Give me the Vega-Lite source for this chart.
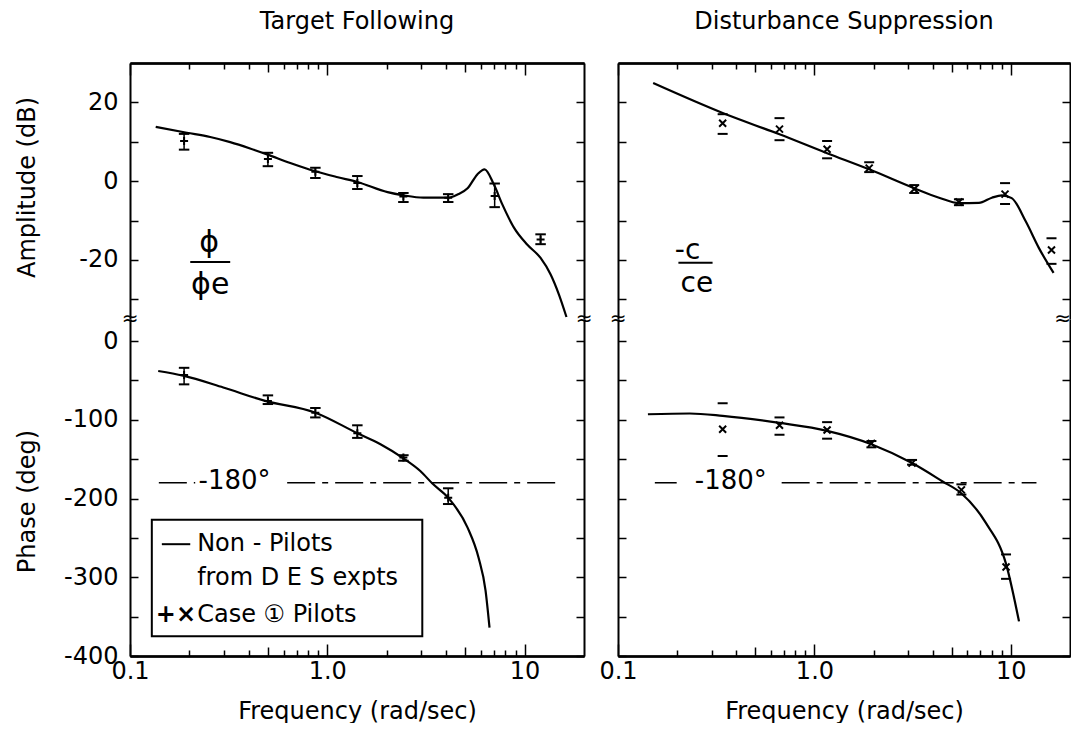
{
  "$schema": "https://vega.github.io/schema/vega-lite/v6.json",
  "padding": {"left": 15, "top": 10, "right": 0, "bottom": 0},
  "background": "white",
  "columns": 2,
  "spacing": {"row": 0, "column": 34},
  "bounds": "flush",
  "datasets": {
    "aL": [
      {"f": 0.135, "v": 13.8}, {"f": 0.194, "v": 12.3}, {"f": 0.255, "v": 11.2}, {"f": 0.322, "v": 9.9},
      {"f": 0.406, "v": 8.3}, {"f": 0.495, "v": 6.8}, {"f": 0.649, "v": 4.6}, {"f": 0.87, "v": 2.5},
      {"f": 1.13, "v": 1.0}, {"f": 1.42, "v": -0.2}, {"f": 2.02, "v": -2.8}, {"f": 2.43, "v": -3.6},
      {"f": 3.07, "v": -4.2}, {"f": 4.1, "v": -4.2}, {"f": 4.57, "v": -3.4}, {"f": 5.14, "v": -1.8},
      {"f": 5.76, "v": 1.7}, {"f": 6.27, "v": 3.0}, {"f": 6.98, "v": -0.8}, {"f": 7.71, "v": -5.9},
      {"f": 8.83, "v": -11.8}, {"f": 10.3, "v": -16.1}, {"f": 12.05, "v": -19.5}, {"f": 13.55, "v": -23.7},
      {"f": 14.93, "v": -28.8}, {"f": 16.3, "v": -34.5}
    ],
    "aLp": [
      {"f": 0.188, "v": 10.2, "lo": 8.0, "hi": 12.0},
      {"f": 0.50, "v": 5.6, "lo": 3.8, "hi": 7.2},
      {"f": 0.87, "v": 2.4, "lo": 0.8, "hi": 3.4},
      {"f": 1.42, "v": -0.5, "lo": -2.0, "hi": 1.3},
      {"f": 2.43, "v": -3.9, "lo": -5.3, "hi": -3.0},
      {"f": 4.1, "v": -4.2, "lo": -5.3, "hi": -3.3},
      {"f": 7.05, "v": -3.8, "lo": -6.6, "hi": -0.6},
      {"f": 12.05, "v": -14.8, "lo": -16.0, "hi": -13.5}
    ],
    "pL": [
      {"f": 0.139, "v": -38}, {"f": 0.186, "v": -44}, {"f": 0.297, "v": -59}, {"f": 0.484, "v": -76},
      {"f": 0.87, "v": -91}, {"f": 1.42, "v": -117}, {"f": 1.86, "v": -131}, {"f": 2.40, "v": -148},
      {"f": 2.96, "v": -165}, {"f": 3.41, "v": -181}, {"f": 4.1, "v": -199}, {"f": 5.14, "v": -237},
      {"f": 5.84, "v": -275}, {"f": 6.34, "v": -317}, {"f": 6.64, "v": -364}
    ],
    "pLp": [
      {"f": 0.188, "v": -43, "lo": -55, "hi": -34},
      {"f": 0.50, "v": -76, "lo": -80, "hi": -69},
      {"f": 0.87, "v": -91, "lo": -97, "hi": -85},
      {"f": 1.42, "v": -117, "lo": -123, "hi": -107},
      {"f": 2.43, "v": -148, "lo": -152, "hi": -145},
      {"f": 4.1, "v": -199, "lo": -207, "hi": -187}
    ],
    "aR": [
      {"f": 0.151, "v": 24.9}, {"f": 0.341, "v": 17.3}, {"f": 0.664, "v": 11.9}, {"f": 1.16, "v": 7.1},
      {"f": 1.90, "v": 3.0}, {"f": 3.22, "v": -1.8}, {"f": 4.31, "v": -4.2}, {"f": 5.44, "v": -5.6},
      {"f": 6.88, "v": -5.5}, {"f": 8.0, "v": -4.2}, {"f": 9.0, "v": -3.6}, {"f": 10.1, "v": -4.3},
      {"f": 11.9, "v": -10.2}, {"f": 13.9, "v": -17.0}, {"f": 16.5, "v": -23.3}
    ],
    "aRp": [
      {"f": 0.341, "v": 14.7, "lo": 12.0, "hi": 17.0},
      {"f": 0.664, "v": 13.2, "lo": 10.4, "hi": 16.0},
      {"f": 1.16, "v": 8.1, "lo": 5.8, "hi": 10.2},
      {"f": 1.90, "v": 3.3, "lo": 2.3, "hi": 4.8},
      {"f": 3.22, "v": -2.0, "lo": -3.0, "hi": -1.0},
      {"f": 5.44, "v": -5.3, "lo": -6.1, "hi": -4.6},
      {"f": 9.34, "v": -3.3, "lo": -5.8, "hi": -0.5},
      {"f": 16.1, "v": -17.5, "lo": -21.0, "hi": -14.5}
    ],
    "pR": [
      {"f": 0.142, "v": -93}, {"f": 0.232, "v": -92}, {"f": 0.341, "v": -95}, {"f": 0.664, "v": -104},
      {"f": 1.16, "v": -114}, {"f": 1.95, "v": -131}, {"f": 3.14, "v": -155}, {"f": 4.47, "v": -178},
      {"f": 5.57, "v": -193}, {"f": 7.46, "v": -231}, {"f": 9.45, "v": -283}, {"f": 11.0, "v": -356}
    ],
    "pRp": [
      {"f": 0.341, "v": -112, "lo": -146, "hi": -79},
      {"f": 0.664, "v": -107, "lo": -119, "hi": -97},
      {"f": 1.16, "v": -113, "lo": -124, "hi": -103},
      {"f": 1.95, "v": -130, "lo": -135, "hi": -127},
      {"f": 3.14, "v": -155, "lo": -157, "hi": -151},
      {"f": 5.6, "v": -189, "lo": -195, "hi": -182},
      {"f": 9.45, "v": -287, "lo": -302, "hi": -271}
    ]
  },
  "concat": [
    {
      "width": 454, "height": 256,
      "title": {"text": "Target  Following", "fontSize": 24, "font": "DejaVu Sans", "fontWeight": "normal", "color": "black", "offset": 28},
      "layer": [
        {"data": {"name": "aL"}, "mark": {"type": "line", "color": "black", "strokeWidth": 2.2, "interpolate": "monotone"},
         "encoding": {
           "x": {"field": "f", "type": "quantitative", "scale": {"type": "log", "domain": [0.1, 20], "nice": false},
                 "axis": {"orient": "top", "values": [0.1, 1, 10], "tickSize": -12, "labels": false, "title": null}},
           "y": {"field": "v", "type": "quantitative", "scale": {"domain": [-35, 30], "nice": false, "zero": false},
                 "axis": {"orient": "left", "values": [-30, -20, -10, 0, 10, 20], "tickSize": -8, "labelPadding": 20,
                          "labelExpr": "datum.value % 20 === 0 ? toString(datum.value) : ''",
                          "title": "Amplitude (dB)", "titleX": -103, "titleY": 124, "titleAngle": 270, "titleAlign": "center", "titleBaseline": "middle"}}
         }},
        {"data": {"name": "aLp"}, "mark": {"type": "point", "shape": "M-1,0H1", "filled": false, "color": "black", "strokeWidth": 2, "size": 110, "opacity": 1},
         "encoding": {
           "x": {"field": "f", "type": "quantitative", "axis": {"orient": "top", "values": [0.2, 0.3, 0.4, 0.6, 0.7, 0.8, 0.9, 2, 3, 4, 6, 7, 8, 9], "tickSize": -6, "labels": false, "title": null}},
           "y": {"field": "lo", "type": "quantitative", "axis": {"orient": "right", "values": [-30, -20, -10, 0, 10, 20], "tickSize": -8, "labels": false, "title": null}}
         }},
        {"data": {"name": "aLp"}, "mark": {"type": "point", "shape": "M-1,0H1", "filled": false, "color": "black", "strokeWidth": 2, "size": 110, "opacity": 1},
         "encoding": {
           "x": {"field": "f", "type": "quantitative", "axis": {"orient": "top", "values": [0.5, 5], "tickSize": -9, "labels": false, "title": null}},
           "y": {"field": "hi", "type": "quantitative", "axis": null}
         }},
        {"data": {"name": "aLp"}, "mark": {"type": "rule", "color": "black", "strokeWidth": 1.5},
         "encoding": {
           "x": {"field": "f", "type": "quantitative", "axis": null},
           "y": {"field": "lo", "type": "quantitative", "axis": null},
           "y2": {"field": "hi"}
         }},
        {"data": {"name": "aLp"}, "mark": {"type": "point", "shape": "M-1,0H1M0,-1V1", "filled": false, "color": "black", "strokeWidth": 2, "size": 64, "opacity": 1},
         "encoding": {
           "x": {"field": "f", "type": "quantitative", "axis": null},
           "y": {"field": "v", "type": "quantitative", "axis": null}
         }},
        {"data": {"values": [{}]}, "mark": {"type": "text", "text": "ϕ", "fontSize": 30, "color": "black", "baseline": "middle", "align": "center"},
         "encoding": {"x": {"datum": 0.252, "type": "quantitative", "axis": null}, "y": {"datum": -15.7, "type": "quantitative", "axis": null}}},
        {"data": {"values": [{}]}, "mark": {"type": "rule", "color": "black", "strokeWidth": 2},
         "encoding": {"x": {"datum": 0.202, "type": "quantitative", "axis": null}, "x2": {"datum": 0.322}, "y": {"datum": -20.5, "type": "quantitative", "axis": null}}},
        {"data": {"values": [{}]}, "mark": {"type": "text", "text": "ϕe", "fontSize": 30, "color": "black", "baseline": "middle", "align": "center"},
         "encoding": {"x": {"datum": 0.255, "type": "quantitative", "axis": null}, "y": {"datum": -26.4, "type": "quantitative", "axis": null}}}
      ],
      "resolve": {"axis": {"x": "independent", "y": "independent"}}
    },
    {
      "width": 452, "height": 256,
      "title": {"text": "Disturbance  Suppression", "fontSize": 24, "font": "DejaVu Sans", "fontWeight": "normal", "color": "black", "offset": 28},
      "layer": [
        {"data": {"name": "aR"}, "mark": {"type": "line", "color": "black", "strokeWidth": 2.2, "interpolate": "monotone"},
         "encoding": {
           "x": {"field": "f", "type": "quantitative", "scale": {"type": "log", "domain": [0.1, 20], "nice": false},
                 "axis": {"orient": "top", "values": [0.1, 1, 10], "tickSize": -12, "labels": false, "title": null}},
           "y": {"field": "v", "type": "quantitative", "scale": {"domain": [-35, 30], "nice": false, "zero": false},
                 "axis": {"orient": "left", "values": [-30, -20, -10, 0, 10, 20], "tickSize": -8, "labels": false, "title": null}}
         }},
        {"data": {"name": "aRp"}, "mark": {"type": "point", "shape": "M-1,0H1", "filled": false, "color": "black", "strokeWidth": 2, "size": 100, "opacity": 1},
         "encoding": {
           "x": {"field": "f", "type": "quantitative", "axis": {"orient": "top", "values": [0.2, 0.3, 0.4, 0.6, 0.7, 0.8, 0.9, 2, 3, 4, 6, 7, 8, 9], "tickSize": -6, "labels": false, "title": null}},
           "y": {"field": "lo", "type": "quantitative", "axis": {"orient": "right", "values": [-30, -20, -10, 0, 10, 20], "tickSize": -8, "labels": false, "title": null}}
         }},
        {"data": {"name": "aRp"}, "mark": {"type": "point", "shape": "M-1,0H1", "filled": false, "color": "black", "strokeWidth": 2, "size": 100, "opacity": 1},
         "encoding": {
           "x": {"field": "f", "type": "quantitative", "axis": {"orient": "top", "values": [0.5, 5], "tickSize": -9, "labels": false, "title": null}},
           "y": {"field": "hi", "type": "quantitative", "axis": null}
         }},
        {"data": {"name": "aRp"}, "mark": {"type": "point", "shape": "M-1,-1L1,1M1,-1L-1,1", "filled": false, "color": "black", "strokeWidth": 2, "size": 49, "opacity": 1},
         "encoding": {
           "x": {"field": "f", "type": "quantitative", "axis": null},
           "y": {"field": "v", "type": "quantitative", "axis": null}
         }},
        {"data": {"values": [{}]}, "mark": {"type": "text", "text": "-c", "fontSize": 28, "color": "black", "baseline": "middle", "align": "center"},
         "encoding": {"x": {"datum": 0.226, "type": "quantitative", "axis": null}, "y": {"datum": -17.8, "type": "quantitative", "axis": null}}},
        {"data": {"values": [{}]}, "mark": {"type": "rule", "color": "black", "strokeWidth": 2},
         "encoding": {"x": {"datum": 0.203, "type": "quantitative", "axis": null}, "x2": {"datum": 0.303}, "y": {"datum": -20.7, "type": "quantitative", "axis": null}}},
        {"data": {"values": [{}]}, "mark": {"type": "text", "text": "ce", "fontSize": 28, "color": "black", "baseline": "middle", "align": "center"},
         "encoding": {"x": {"datum": 0.252, "type": "quantitative", "axis": null}, "y": {"datum": -26.1, "type": "quantitative", "axis": null}}}
      ],
      "resolve": {"axis": {"x": "independent", "y": "independent"}}
    },
    {
      "width": 454, "height": 337,
      "layer": [
        {"data": {"name": "pL"}, "mark": {"type": "line", "color": "black", "strokeWidth": 2.2, "interpolate": "monotone"},
         "encoding": {
           "x": {"field": "f", "type": "quantitative", "scale": {"type": "log", "domain": [0.1, 20], "nice": false},
                 "axis": {"orient": "bottom", "values": [0.1, 1, 10], "tickSize": -12, "labelPadding": 15,
                          "labelExpr": "datum.value === 1 ? '1.0' : datum.value < 0.5 ? '0.1' : '10'",
                          "title": "Frequency (rad/sec)", "titlePadding": 16}},
           "y": {"field": "v", "type": "quantitative", "scale": {"domain": [-400, 28], "nice": false, "zero": false},
                 "axis": {"orient": "left", "values": [-400, -350, -300, -250, -200, -150, -100, -50, 0], "tickSize": -8, "labelPadding": 20,
                          "labelExpr": "datum.value % 100 === 0 ? toString(datum.value) : ''",
                          "title": "Phase (deg)", "titleX": -103, "titleY": 182, "titleAngle": 270, "titleAlign": "center", "titleBaseline": "middle"}}
         }},
        {"data": {"name": "pLp"}, "mark": {"type": "point", "shape": "M-1,0H1", "filled": false, "color": "black", "strokeWidth": 2, "size": 110, "opacity": 1},
         "encoding": {
           "x": {"field": "f", "type": "quantitative", "axis": {"orient": "bottom", "values": [0.2, 0.3, 0.4, 0.6, 0.7, 0.8, 0.9, 2, 3, 4, 6, 7, 8, 9], "tickSize": -6, "labels": false, "title": null}},
           "y": {"field": "lo", "type": "quantitative", "axis": {"orient": "right", "values": [-400, -350, -300, -250, -200, -150, -100, -50, 0], "tickSize": -8, "labels": false, "title": null}}
         }},
        {"data": {"name": "pLp"}, "mark": {"type": "point", "shape": "M-1,0H1", "filled": false, "color": "black", "strokeWidth": 2, "size": 110, "opacity": 1},
         "encoding": {
           "x": {"field": "f", "type": "quantitative", "axis": {"orient": "bottom", "values": [0.5, 5], "tickSize": -9, "labels": false, "title": null}},
           "y": {"field": "hi", "type": "quantitative", "axis": null}
         }},
        {"data": {"name": "pLp"}, "mark": {"type": "rule", "color": "black", "strokeWidth": 1.5},
         "encoding": {
           "x": {"field": "f", "type": "quantitative", "axis": null},
           "y": {"field": "lo", "type": "quantitative", "axis": null},
           "y2": {"field": "hi"}
         }},
        {"data": {"name": "pLp"}, "mark": {"type": "point", "shape": "M-1,0H1M0,-1V1", "filled": false, "color": "black", "strokeWidth": 2, "size": 64, "opacity": 1},
         "encoding": {
           "x": {"field": "f", "type": "quantitative", "axis": null},
           "y": {"field": "v", "type": "quantitative", "axis": null}
         }},
        {"data": {"values": [{}]}, "mark": {"type": "rule", "color": "black", "strokeWidth": 1.5, "strokeDash": [28, 7, 6, 7]},
         "encoding": {"x": {"datum": 0.14, "type": "quantitative", "axis": null}, "x2": {"datum": 0.214}, "y": {"datum": -180, "type": "quantitative", "axis": null}}},
        {"data": {"values": [{}]}, "mark": {"type": "rule", "color": "black", "strokeWidth": 1.5, "strokeDash": [28, 7, 6, 7]},
         "encoding": {"x": {"datum": 0.626, "type": "quantitative", "axis": null}, "x2": {"datum": 14.7}, "y": {"datum": -180, "type": "quantitative", "axis": null}}},
        {"data": {"values": [{}]}, "mark": {"type": "text", "text": "-180°", "fontSize": 26, "color": "black", "baseline": "middle", "align": "center"},
         "encoding": {"x": {"datum": 0.339, "type": "quantitative", "axis": null}, "y": {"datum": -178, "type": "quantitative", "axis": null}}},
        {"data": {"values": [{}]}, "mark": {"type": "rect", "fill": "white", "stroke": "black", "strokeWidth": 2},
         "encoding": {"x": {"datum": 0.129, "type": "quantitative", "axis": null}, "x2": {"datum": 3.03}, "y": {"datum": -227, "type": "quantitative", "axis": null}, "y2": {"datum": -375}}},
        {"data": {"values": [{}]}, "mark": {"type": "rule", "color": "black", "strokeWidth": 2},
         "encoding": {"x": {"datum": 0.145, "type": "quantitative", "axis": null}, "x2": {"datum": 0.202}, "y": {"datum": -258, "type": "quantitative", "axis": null}}},
        {"data": {"values": [{}]}, "mark": {"type": "text", "text": "Non - Pilots", "fontSize": 24, "color": "black", "baseline": "middle", "align": "left"},
         "encoding": {"x": {"datum": 0.219, "type": "quantitative", "axis": null}, "y": {"datum": -258, "type": "quantitative", "axis": null}}},
        {"data": {"values": [{}]}, "mark": {"type": "text", "text": "from  D E S  expts", "fontSize": 24, "color": "black", "baseline": "middle", "align": "left"},
         "encoding": {"x": {"datum": 0.219, "type": "quantitative", "axis": null}, "y": {"datum": -301, "type": "quantitative", "axis": null}}},
        {"data": {"values": [{}]}, "mark": {"type": "text", "text": "+×", "fontSize": 24, "fontWeight": "bold", "color": "black", "baseline": "middle", "align": "center"},
         "encoding": {"x": {"datum": 0.171, "type": "quantitative", "axis": null}, "y": {"datum": -348, "type": "quantitative", "axis": null}}},
        {"data": {"values": [{}]}, "mark": {"type": "text", "text": "Case ① Pilots", "fontSize": 24, "color": "black", "baseline": "middle", "align": "left"},
         "encoding": {"x": {"datum": 0.219, "type": "quantitative", "axis": null}, "y": {"datum": -348, "type": "quantitative", "axis": null}}},
        {"data": {"values": [{}]}, "mark": {"type": "text", "text": "≈", "fontSize": 20, "color": "black", "baseline": "middle", "align": "center"},
         "encoding": {"x": {"datum": 0.1, "type": "quantitative", "axis": null}, "y": {"datum": 28, "type": "quantitative", "axis": null}}},
        {"data": {"values": [{}]}, "mark": {"type": "text", "text": "≈", "fontSize": 20, "color": "black", "baseline": "middle", "align": "center"},
         "encoding": {"x": {"datum": 20, "type": "quantitative", "axis": null}, "y": {"datum": 28, "type": "quantitative", "axis": null}}}
      ],
      "resolve": {"axis": {"x": "independent", "y": "independent"}}
    },
    {
      "width": 452, "height": 337,
      "layer": [
        {"data": {"name": "pR"}, "mark": {"type": "line", "color": "black", "strokeWidth": 2.2, "interpolate": "monotone"},
         "encoding": {
           "x": {"field": "f", "type": "quantitative", "scale": {"type": "log", "domain": [0.1, 20], "nice": false},
                 "axis": {"orient": "bottom", "values": [0.1, 1, 10], "tickSize": -12, "labelPadding": 15,
                          "labelExpr": "datum.value === 1 ? '1.0' : datum.value < 0.5 ? '0.1' : '10'",
                          "title": "Frequency (rad/sec)", "titlePadding": 16}},
           "y": {"field": "v", "type": "quantitative", "scale": {"domain": [-400, 28], "nice": false, "zero": false},
                 "axis": {"orient": "left", "values": [-400, -350, -300, -250, -200, -150, -100, -50, 0], "tickSize": -8, "labels": false, "title": null}}
         }},
        {"data": {"name": "pRp"}, "mark": {"type": "point", "shape": "M-1,0H1", "filled": false, "color": "black", "strokeWidth": 2, "size": 100, "opacity": 1},
         "encoding": {
           "x": {"field": "f", "type": "quantitative", "axis": {"orient": "bottom", "values": [0.2, 0.3, 0.4, 0.6, 0.7, 0.8, 0.9, 2, 3, 4, 6, 7, 8, 9], "tickSize": -6, "labels": false, "title": null}},
           "y": {"field": "lo", "type": "quantitative", "axis": {"orient": "right", "values": [-400, -350, -300, -250, -200, -150, -100, -50, 0], "tickSize": -8, "labels": false, "title": null}}
         }},
        {"data": {"name": "pRp"}, "mark": {"type": "point", "shape": "M-1,0H1", "filled": false, "color": "black", "strokeWidth": 2, "size": 100, "opacity": 1},
         "encoding": {
           "x": {"field": "f", "type": "quantitative", "axis": {"orient": "bottom", "values": [0.5, 5], "tickSize": -9, "labels": false, "title": null}},
           "y": {"field": "hi", "type": "quantitative", "axis": null}
         }},
        {"data": {"name": "pRp"}, "mark": {"type": "point", "shape": "M-1,-1L1,1M1,-1L-1,1", "filled": false, "color": "black", "strokeWidth": 2, "size": 49, "opacity": 1},
         "encoding": {
           "x": {"field": "f", "type": "quantitative", "axis": null},
           "y": {"field": "v", "type": "quantitative", "axis": null}
         }},
        {"data": {"values": [{}]}, "mark": {"type": "rule", "color": "black", "strokeWidth": 1.5, "strokeDash": [28, 7, 6, 7]},
         "encoding": {"x": {"datum": 0.154, "type": "quantitative", "axis": null}, "x2": {"datum": 0.199}, "y": {"datum": -180, "type": "quantitative", "axis": null}}},
        {"data": {"values": [{}]}, "mark": {"type": "rule", "color": "black", "strokeWidth": 1.5, "strokeDash": [28, 7, 6, 7]},
         "encoding": {"x": {"datum": 0.681, "type": "quantitative", "axis": null}, "x2": {"datum": 13.5}, "y": {"datum": -180, "type": "quantitative", "axis": null}}},
        {"data": {"values": [{}]}, "mark": {"type": "text", "text": "-180°", "fontSize": 26, "color": "black", "baseline": "middle", "align": "center"},
         "encoding": {"x": {"datum": 0.375, "type": "quantitative", "axis": null}, "y": {"datum": -178, "type": "quantitative", "axis": null}}},
        {"data": {"values": [{}]}, "mark": {"type": "text", "text": "≈", "fontSize": 20, "color": "black", "baseline": "middle", "align": "center"},
         "encoding": {"x": {"datum": 0.1, "type": "quantitative", "axis": null}, "y": {"datum": 28, "type": "quantitative", "axis": null}}},
        {"data": {"values": [{}]}, "mark": {"type": "text", "text": "≈", "fontSize": 20, "color": "black", "baseline": "middle", "align": "right", "dx": 1},
         "encoding": {"x": {"datum": 20, "type": "quantitative", "axis": null}, "y": {"datum": 28, "type": "quantitative", "axis": null}}}
      ],
      "resolve": {"axis": {"x": "independent", "y": "independent"}}
    }
  ],
  "config": {
    "font": "DejaVu Sans",
    "view": {"stroke": null},
    "text": {"font": "DejaVu Sans", "color": "black"},
    "axis": {
      "labelFont": "DejaVu Sans", "labelFontSize": 24, "labelColor": "black",
      "titleFont": "DejaVu Sans", "titleFontSize": 24, "titleFontWeight": "normal", "titleColor": "black",
      "domainColor": "black", "domainWidth": 2, "tickColor": "black", "tickWidth": 1.5,
      "grid": false, "labelFlush": false, "labelOverlap": false
    }
  }
}
